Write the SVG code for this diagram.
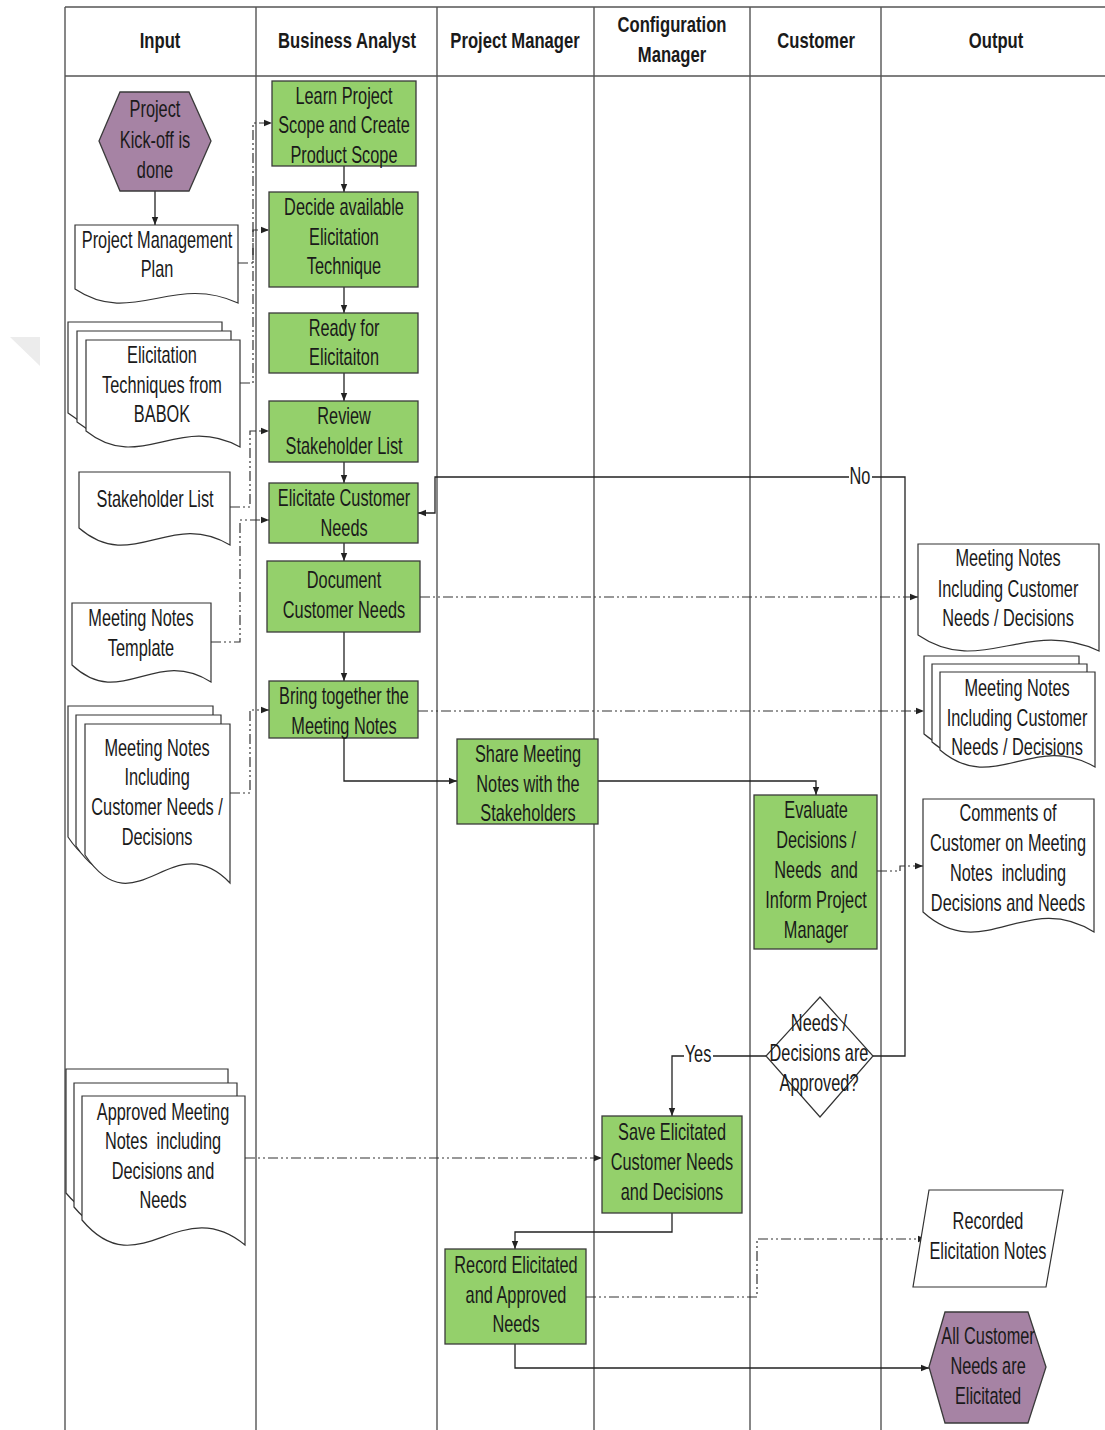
<svg xmlns="http://www.w3.org/2000/svg" width="1105" height="1430" viewBox="0 0 1105 1430">
  <style>
    .t{font-family:"Liberation Sans",Arial,sans-serif;font-size:23px;fill:#1a1a1a;text-anchor:middle;transform-box:fill-box;transform-origin:center;transform:scaleX(.71)}
    .h{font-weight:bold;font-size:22.5px;transform:scaleX(.74)}
    .pre{white-space:pre}
    .lane{stroke:#555;stroke-width:1.4;fill:none}
    .proc{fill:#94d06b;stroke:#3a3a3a;stroke-width:1.3}
    .evt{fill:#a683a4;stroke:#3a3a3a;stroke-width:1.3}
    .doc{fill:#fff;stroke:#333;stroke-width:1.2}
    .dec{fill:#fff;stroke:#333;stroke-width:1.2}
    .flow{fill:none;stroke:#222;stroke-width:1.3;marker-end:url(#ah)}
    .data{fill:none;stroke:#333;stroke-width:1.2;stroke-dasharray:10 3 2 3 2 3;marker-end:url(#ah)}
  </style>
  <defs>
    <marker id="ah" viewBox="0 0 10 10" refX="10" refY="5" markerWidth="8" markerHeight="8" markerUnits="userSpaceOnUse" orient="auto">
      <path d="M0,1 L10,5 L0,9 Z" fill="#222"/>
    </marker>
  </defs>
  <rect width="1105" height="1430" fill="#fff"/>
  <polygon points="10,337 40,337 40,366" fill="#ececec"/>

  <!-- swimlane grid -->
  <g id="lanes">
    <path class="lane" d="M65,7 H1105 M65,76 H1105 M65,7 V1430 M256,7 V1430 M437,7 V1430 M594,7 V1430 M750,7 V1430 M881,7 V1430"/>
    <text class="t h" x="160" y="48">Input</text>
    <text class="t h" x="347" y="48">Business Analyst</text>
    <text class="t h" x="515" y="48">Project Manager</text>
    <text class="t h"><tspan x="672" y="32">Configuration</tspan><tspan x="672" y="62">Manager</tspan></text>
    <text class="t h" x="816" y="48">Customer</text>
    <text class="t h" x="996" y="48">Output</text>
  </g>

  <!-- connectors -->
  <g id="connectors">
    <path class="flow" d="M155,191 V225"/>
    <path class="flow" d="M344,166 V192"/>
    <path class="flow" d="M344,287 V313"/>
    <path class="flow" d="M344,373 V401"/>
    <path class="flow" d="M344,462 V483"/>
    <path class="flow" d="M344,543 V561"/>
    <path class="flow" d="M344,632 V681"/>
    <path class="flow" d="M344,738 V781 H457"/>
    <path class="flow" d="M598,781 H816 V795"/>
    <path class="flow" d="M873,1056 H905 V477 H435 V513 H418"/>
    <path class="flow" d="M766,1056 H672 V1116"/>
    <path class="flow" d="M672,1213 V1232 H515 V1249"/>
    <path class="flow" d="M515,1344 V1368 H929"/>

    <path class="data" d="M238,263 H253 V123 H272"/>
    <path class="data" d="M240,383 H253 V230 H269"/>
    <path class="data" d="M230,507 H250 V431 H269"/>
    <path class="data" d="M211,642 H240 V520 H269"/>
    <path class="data" d="M230,793 H250 V710 H269"/>
    <path class="data" d="M420,597 H918"/>
    <path class="data" d="M418,711 H924"/>
    <path class="data" d="M877,871 H900 V866 H923"/>
    <path class="data" d="M245,1158 H602"/>
    <path class="data" d="M586,1297 H757 V1239 H926"/>

    <rect x="849" y="466" width="23" height="22" fill="#fff"/>
    <text class="t" x="860" y="484">No</text>
    <rect x="684" y="1043" width="29" height="22" fill="#fff"/>
    <text class="t" x="698" y="1062">Yes</text>
  </g>

  <!-- input lane -->
  <g id="kickoff">
    <polygon class="evt" points="99,141 120,92 189,92 211,141 189,191 120,191"/>
    <text class="t"><tspan x="155" y="117">Project</tspan><tspan x="155" y="148">Kick-off is</tspan><tspan x="155" y="178">done</tspan></text>
  </g>
  <g id="pm-plan">
    <path class="doc" d="M75,225 H238 V303 C173,273 132,327 75,289 Z"/>
    <text class="t"><tspan x="157" y="248">Project Management</tspan><tspan x="157" y="277">Plan</tspan></text>
  </g>
  <g id="babok">
    <path class="doc" d="M68,322 H222 V429 C160,395 122,456 68,413 Z"/>
    <path class="doc" d="M77,331 H231 V438 C169,404 131,465 77,422 Z"/>
    <path class="doc" d="M86,340 H240 V447 C178,413 140,474 86,431 Z"/>
    <text class="t"><tspan x="162" y="363">Elicitation</tspan><tspan x="162" y="393">Techniques from</tspan><tspan x="162" y="422">BABOK</tspan></text>
  </g>
  <g id="stakeholder-list">
    <path class="doc" d="M79,472 H230 V545 C170,509 132,574 79,528 Z"/>
    <text class="t" x="155" y="507">Stakeholder List</text>
  </g>
  <g id="notes-template">
    <path class="doc" d="M72,603 H211 V682 C155,646 121,711 72,665 Z"/>
    <text class="t"><tspan x="141" y="626">Meeting Notes</tspan><tspan x="141" y="656">Template</tspan></text>
  </g>
  <g id="notes-in">
    <path class="doc" d="M68,706 H213 V865 C155,805 119,913 68,837 Z"/>
    <path class="doc" d="M76,715 H221 V874 C163,814 127,922 76,846 Z"/>
    <path class="doc" d="M85,724 H230 V883 C172,823 136,931 85,855 Z"/>
    <text class="t"><tspan x="157" y="756">Meeting Notes</tspan><tspan x="157" y="785">Including</tspan><tspan x="157" y="815">Customer Needs /</tspan><tspan x="157" y="845">Decisions</tspan></text>
  </g>
  <g id="approved-notes">
    <path class="doc" d="M66,1069 H228 V1218 C163,1164 123,1261 66,1193 Z"/>
    <path class="doc" d="M74,1083 H237 V1232 C172,1178 131,1275 74,1207 Z"/>
    <path class="doc" d="M82,1096 H245 V1245 C180,1191 139,1288 82,1220 Z"/>
    <text class="t pre"><tspan x="163" y="1120">Approved Meeting</tspan><tspan x="163" y="1149">Notes  including</tspan><tspan x="163" y="1179">Decisions and</tspan><tspan x="163" y="1208">Needs</tspan></text>
  </g>

  <!-- business analyst lane -->
  <g id="learn-scope">
    <rect class="proc" x="272" y="81" width="144" height="85"/>
    <text class="t"><tspan x="344" y="104">Learn Project</tspan><tspan x="344" y="133">Scope and Create</tspan><tspan x="344" y="163">Product Scope</tspan></text>
  </g>
  <g id="decide-technique">
    <rect class="proc" x="269" y="192" width="149" height="95"/>
    <text class="t"><tspan x="344" y="215">Decide available</tspan><tspan x="344" y="245">Elicitation</tspan><tspan x="344" y="274">Technique</tspan></text>
  </g>
  <g id="ready">
    <rect class="proc" x="269" y="313" width="149" height="60"/>
    <text class="t"><tspan x="344" y="336">Ready for</tspan><tspan x="344" y="365">Elicitaiton</tspan></text>
  </g>
  <g id="review-stakeholders">
    <rect class="proc" x="269" y="401" width="149" height="61"/>
    <text class="t"><tspan x="344" y="424">Review</tspan><tspan x="344" y="454">Stakeholder List</tspan></text>
  </g>
  <g id="elicitate-needs">
    <rect class="proc" x="269" y="483" width="149" height="60"/>
    <text class="t"><tspan x="344" y="506">Elicitate Customer</tspan><tspan x="344" y="536">Needs</tspan></text>
  </g>
  <g id="document-needs">
    <rect class="proc" x="267" y="561" width="153" height="71"/>
    <text class="t"><tspan x="344" y="588">Document</tspan><tspan x="344" y="618">Customer Needs</tspan></text>
  </g>
  <g id="bring-notes">
    <rect class="proc" x="269" y="681" width="149" height="57"/>
    <text class="t"><tspan x="344" y="704">Bring together the</tspan><tspan x="344" y="734">Meeting Notes</tspan></text>
  </g>

  <!-- project manager lane -->
  <g id="share-notes">
    <rect class="proc" x="457" y="739" width="141" height="85"/>
    <text class="t"><tspan x="528" y="762">Share Meeting</tspan><tspan x="528" y="792">Notes with the</tspan><tspan x="528" y="821">Stakeholders</tspan></text>
  </g>
  <g id="record-needs">
    <rect class="proc" x="445" y="1249" width="141" height="95"/>
    <text class="t"><tspan x="516" y="1273">Record Elicitated</tspan><tspan x="516" y="1303">and Approved</tspan><tspan x="516" y="1332">Needs</tspan></text>
  </g>

  <!-- configuration manager lane -->
  <g id="save-needs">
    <rect class="proc" x="602" y="1116" width="140" height="97"/>
    <text class="t"><tspan x="672" y="1140">Save Elicitated</tspan><tspan x="672" y="1170">Customer Needs</tspan><tspan x="672" y="1200">and Decisions</tspan></text>
  </g>

  <!-- customer lane -->
  <g id="evaluate">
    <rect class="proc" x="754" y="795" width="123" height="154"/>
    <text class="t pre"><tspan x="816" y="818">Evaluate</tspan><tspan x="816" y="848">Decisions /</tspan><tspan x="816" y="878">Needs  and</tspan><tspan x="816" y="908">Inform Project</tspan><tspan x="816" y="938">Manager</tspan></text>
  </g>
  <g id="approved-check">
    <polygon class="dec" points="820,997 873,1056 820,1117 766,1056"/>
    <text class="t"><tspan x="819" y="1031">Needs /</tspan><tspan x="819" y="1061">Decisions are</tspan><tspan x="819" y="1091">Approved?</tspan></text>
  </g>

  <!-- output lane -->
  <g id="notes-out">
    <path class="doc" d="M918,544 H1099 V651 C1027,617 981,678 918,635 Z"/>
    <text class="t"><tspan x="1008" y="566">Meeting Notes</tspan><tspan x="1008" y="597">Including Customer</tspan><tspan x="1008" y="626">Needs / Decisions</tspan></text>
  </g>
  <g id="notes-out-set">
    <path class="doc" d="M924,656 H1079 V751 C1017,715 978,780 924,734 Z"/>
    <path class="doc" d="M932,664 H1087 V759 C1025,723 986,788 932,742 Z"/>
    <path class="doc" d="M940,672 H1095 V767 C1033,731 994,796 940,750 Z"/>
    <text class="t"><tspan x="1017" y="696">Meeting Notes</tspan><tspan x="1017" y="726">Including Customer</tspan><tspan x="1017" y="755">Needs / Decisions</tspan></text>
  </g>
  <g id="customer-comments">
    <path class="doc" d="M923,799 H1094 V932 C1026,889 983,966 923,912 Z"/>
    <text class="t pre"><tspan x="1008" y="821">Comments of</tspan><tspan x="1008" y="851">Customer on Meeting</tspan><tspan x="1008" y="881">Notes  including</tspan><tspan x="1008" y="911">Decisions and Needs</tspan></text>
  </g>
  <g id="recorded-notes">
    <polygon class="doc" points="929,1190 1063,1190 1046,1287 913,1287"/>
    <text class="t"><tspan x="988" y="1229">Recorded</tspan><tspan x="988" y="1259">Elicitation Notes</tspan></text>
  </g>
  <g id="all-elicitated">
    <polygon class="evt" points="929,1367 945,1312 1028,1312 1046,1367 1028,1423 945,1423"/>
    <text class="t"><tspan x="988" y="1344">All Customer</tspan><tspan x="988" y="1374">Needs are</tspan><tspan x="988" y="1404">Elicitated</tspan></text>
  </g>
</svg>
